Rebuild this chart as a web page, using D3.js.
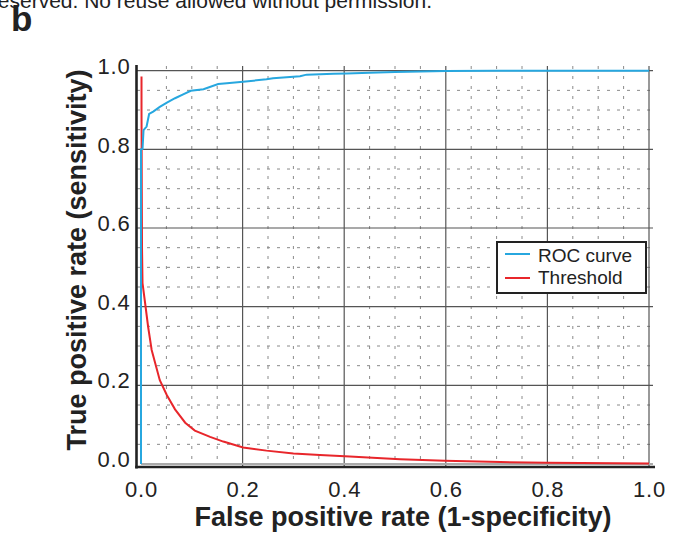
<!DOCTYPE html>
<html>
<head>
<meta charset="utf-8">
<script src="https://cdn.jsdelivr.net/npm/d3@7"></script>
<style>
  body { margin: 0; background: #fff; }
  svg { display: block; font-family: "Liberation Sans", Arial, sans-serif; }
</style>
</head>
<body>
<div id="chart"></div>
<script>
// ROC curve (false positive rate vs true positive rate)
const rocFpr = [0, 0, 0.003, 0.005, 0.011, 0.016, 0.024, 0.037, 0.051, 0.067, 0.083, 0.098, 0.123, 0.152, 0.169, 0.201, 0.247, 0.26, 0.313, 0.326, 0.379, 0.405, 0.45, 0.5, 0.55, 0.6, 0.7, 1.0];
const rocTpr = [0, 0.8, 0.801, 0.849, 0.858, 0.89, 0.896, 0.908, 0.919, 0.93, 0.94, 0.949, 0.953, 0.966, 0.968, 0.972, 0.978, 0.981, 0.986, 0.99, 0.992, 0.993, 0.995, 0.997, 0.998, 0.999, 1.0, 1.0];

// Threshold curve (false positive rate vs threshold)
const thrFpr = [0.001, 0.001, 0.0015, 0.002, 0.003, 0.008, 0.014, 0.021, 0.028, 0.037, 0.051, 0.067, 0.087, 0.106, 0.136, 0.162, 0.201, 0.247, 0.3, 0.352, 0.411, 0.51, 0.598, 0.707, 0.799, 1.0];
const thrVal = [0.985, 0.9, 0.7, 0.55, 0.46, 0.41, 0.349, 0.29, 0.256, 0.213, 0.175, 0.139, 0.105, 0.085, 0.069, 0.057, 0.042, 0.034, 0.027, 0.023, 0.019, 0.012, 0.008, 0.005, 0.003, 0.001];

const majorTicks = [0, 0.2, 0.4, 0.6, 0.8, 1.0];
const minorTicks = d3.range(0, 1.0001, 0.05);
const seriesNames = ["ROC curve", "Threshold"];
const seriesColors = ["#27a7df", "#e8262b"];

const width = 680, height = 537;
const x = d3.scaleLinear().domain([0, 1]).range([141, 649]);
const y = d3.scaleLinear().domain([0, 1]).range([464, 70.7]);

const svg = d3.select("#chart").append("svg")
  .attr("width", width)
  .attr("height", height);

// clipped copyright line at the top
svg.append("text")
  .attr("x", 432).attr("y", 8)
  .attr("text-anchor", "end")
  .style("font-size", "21px")
  .attr("fill", "#222")
  .text("All rights reserved. No reuse allowed without permission.");

svg.append("text")
  .attr("x", 11).attr("y", 31)
  .style("font-size", "35px")
  .style("font-weight", "bold")
  .attr("fill", "#222")
  .text("b");

const isMajor = d => majorTicks.some(m => Math.abs(m - d) < 1e-6);

// minor dotted grid
const grid = svg.append("g");
grid.selectAll(".minor-v")
  .data(minorTicks.filter(d => !isMajor(d)))
  .enter().append("line")
  .attr("x1", d => x(d)).attr("x2", d => x(d))
  .attr("y1", 66).attr("y2", 466)
  .attr("stroke", "#8a8a8a")
  .attr("stroke-width", 1)
  .attr("stroke-dasharray", "3,7");
grid.selectAll(".minor-h")
  .data(minorTicks.filter(d => !isMajor(d)))
  .enter().append("line")
  .attr("x1", 137).attr("x2", 653)
  .attr("y1", d => y(d)).attr("y2", d => y(d))
  .attr("stroke", "#8a8a8a")
  .attr("stroke-width", 1)
  .attr("stroke-dasharray", "3,7");

// major solid grid
grid.selectAll(".major-v")
  .data(majorTicks.slice(1))
  .enter().append("line")
  .attr("x1", d => x(d)).attr("x2", d => x(d))
  .attr("y1", 66).attr("y2", 466)
  .attr("stroke", "#555")
  .attr("stroke-width", 1.2);
grid.selectAll(".major-h")
  .data(majorTicks.slice(1))
  .enter().append("line")
  .attr("x1", 137).attr("x2", 653)
  .attr("y1", d => y(d)).attr("y2", d => y(d))
  .attr("stroke", "#555")
  .attr("stroke-width", 1.2);
// zero line is light grey
grid.append("line")
  .attr("x1", x(0)).attr("x2", 653)
  .attr("y1", y(0)).attr("y2", y(0))
  .attr("stroke", "#aaa").attr("stroke-width", 2);

// curves
const line = d3.line().x(d => x(d[0])).y(d => y(d[1]));
svg.append("path")
  .datum(d3.zip(thrFpr, thrVal))
  .attr("fill", "none")
  .attr("stroke", seriesColors[1])
  .attr("stroke-width", 2)
  .attr("d", line);
svg.append("path")
  .datum(d3.zip(rocFpr, rocTpr))
  .attr("fill", "none")
  .attr("stroke", seriesColors[0])
  .attr("stroke-width", 2)
  .attr("d", line);

// axes
const fmt = d3.format(".1f");
const xAxis = svg.append("g")
  .attr("transform", "translate(0,467)")
  .call(d3.axisBottom(x).tickValues(majorTicks).tickFormat(fmt).tickSize(0).tickPadding(8));
const yAxis = svg.append("g")
  .attr("transform", "translate(136.5,0)")
  .call(d3.axisLeft(y).tickValues(majorTicks).tickFormat(fmt).tickSize(0).tickPadding(6));
[xAxis, yAxis].forEach(a => {
  a.select(".domain").remove();
  a.selectAll("text")
    .style("font-size", "22px")
    .style("letter-spacing", "0.8px")
    .attr("fill", "#222")
    .attr("font-family", null);
});
xAxis.selectAll("text").attr("dy", "1.0em");
yAxis.selectAll("text").attr("dy", "0.12em");

svg.append("line")
  .attr("x1", 136.5).attr("x2", 136.5).attr("y1", 65).attr("y2", 468.5)
  .attr("stroke", "#222").attr("stroke-width", 2.6);
svg.append("line")
  .attr("x1", 135.2).attr("x2", 655).attr("y1", 467).attr("y2", 467)
  .attr("stroke", "#222").attr("stroke-width", 2.6);

// axis titles
svg.append("text")
  .attr("x", 403).attr("y", 526)
  .attr("text-anchor", "middle")
  .style("font-size", "27px").style("font-weight", "bold")
  .attr("fill", "#222")
  .text("False positive rate (1-specificity)");
svg.append("text")
  .attr("transform", "translate(86,260) rotate(-90)")
  .attr("text-anchor", "middle")
  .style("font-size", "27px").style("font-weight", "bold")
  .attr("fill", "#222")
  .text("True positive rate (sensitivity)");

// legend
const legend = svg.append("g").attr("transform", "translate(497,242)");
legend.append("rect")
  .attr("width", 149).attr("height", 51)
  .attr("fill", "#fff").attr("stroke", "#222").attr("stroke-width", 2);
seriesNames.forEach((name, i) => {
  legend.append("line")
    .attr("x1", 8).attr("x2", 33)
    .attr("y1", 12 + i * 24).attr("y2", 12 + i * 24)
    .attr("stroke", seriesColors[i]).attr("stroke-width", 2);
  legend.append("text")
    .attr("x", 41).attr("y", 20 + i * 22)
    .style("font-size", "19px").attr("fill", "#222")
    .text(name);
});
</script>
</body>
</html>
